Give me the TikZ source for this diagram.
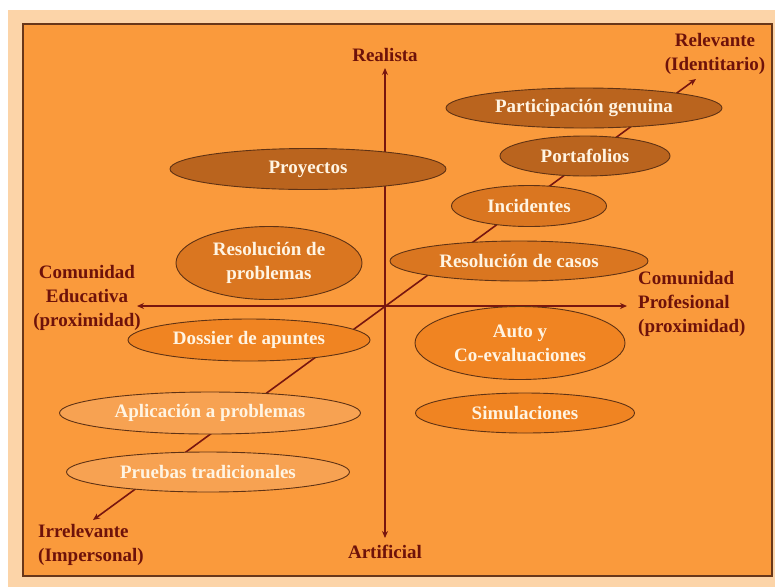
\documentclass[tikz,border=0pt]{standalone}
\usepackage{fontspec}
\setmainfont{Liberation Serif}
\usetikzlibrary{shapes.geometric,arrows.meta}
\definecolor{pagebg}{RGB}{252,212,168}
\definecolor{panel}{RGB}{250,154,60}
\definecolor{frame}{RGB}{105,55,25}
\definecolor{axiscol}{RGB}{120,22,15}
\definecolor{lblcol}{RGB}{110,18,10}
\definecolor{cream}{RGB}{255,244,226}
\definecolor{edge}{RGB}{95,50,20}
\definecolor{fdark}{RGB}{186,100,30}
\definecolor{fmed}{RGB}{218,118,32}
\definecolor{fdeep}{RGB}{240,132,34}
\definecolor{flight}{RGB}{247,162,82}
\tikzset{
  bigfont/.style={font=\bfseries\fontsize{19}{24}\selectfont},
  ell/.style={ellipse, draw=edge, line width=0.9pt, inner sep=0pt, text=cream, bigfont, align=center},
  edark/.style={ell, fill=fdark},
  emed/.style={ell, fill=fmed},
  edeep/.style={ell, fill=fdeep},
  elight/.style={ell, fill=flight},
  lbl/.style={text=lblcol, bigfont, inner sep=0pt},
  axis/.style={draw=axiscol, line width=1.6pt, {Stealth[length=7pt,width=6pt]}-{Stealth[length=7pt,width=6pt]}}
}
\begin{document}
\begin{tikzpicture}[x=1pt,y=-1pt]
\useasboundingbox (0,0) rectangle (775,587);
\fill[white] (0,0) rectangle (775,587);
\fill[pagebg] (8,10) rectangle (775,587);
\draw[fill=panel, draw=frame, line width=1.2pt] (23,24) rectangle (772,576);

% axis end points
\coordinate (vtop) at (385,68);
\coordinate (vbot) at (385,538);
\coordinate (hleft) at (137,306);
\coordinate (hright) at (627,306);
\coordinate (dlow) at (93,520);
\coordinate (dhigh) at (696,79);

\draw[axis] (vbot) -- (vtop);
\draw[axis] (hleft) -- (hright);
\draw[axis] (dlow) -- (dhigh);

% labels
\node[lbl] (realista) at (385,55) {Realista};
\node[lbl] (artificial) at (385,552) {Artificial};
\node[lbl, align=center] (relevante) at (715,54) {Relevante\\(Identitario)};
\node[lbl, align=center] (educ) at (87,298) {Comunidad\\Educativa\\(proximidad)};
\node[lbl, align=left, anchor=west] (prof) at (638,304) {Comunidad\\Profesional\\(proximidad)};
\node[lbl, align=left, anchor=west] (irrel) at (38,545) {Irrelevante\\(Impersonal)};

% ellipses
\node[edark, minimum width=276pt, minimum height=40pt] (pg) at (584,108) {Participación genuina};
\node[edark, minimum width=170pt, minimum height=40pt] (porta) at (585,156) {Portafolios};
\node[edark, minimum width=276pt, minimum height=41pt] (proy) at (308,169) {Proyectos};
\node[emed, minimum width=155pt, minimum height=41pt] (inc) at (529,206) {Incidentes};
\node[emed, minimum width=258pt, minimum height=40pt] (rcasos) at (519,261) {Resolución de casos};
\node[emed, minimum width=186pt, minimum height=73pt] (rprob) at (269,263) {Resolución de\\problemas};
\node[edeep, minimum width=242pt, minimum height=42pt] (dossier) at (249,340) {Dossier de apuntes};
\node[edeep, minimum width=210pt, minimum height=73pt] (auto) at (520,343) {Auto y\\Co-evaluaciones};
\node[edeep, minimum width=219pt, minimum height=40pt] (simul) at (525,413) {Simulaciones};
\node[elight, minimum width=301pt, minimum height=42pt] (aplic) at (210,413) {Aplicación a problemas};
\node[elight, minimum width=283pt, minimum height=40pt] (pruebas) at (208,472) {Pruebas tradicionales};
\end{tikzpicture}
\end{document}
